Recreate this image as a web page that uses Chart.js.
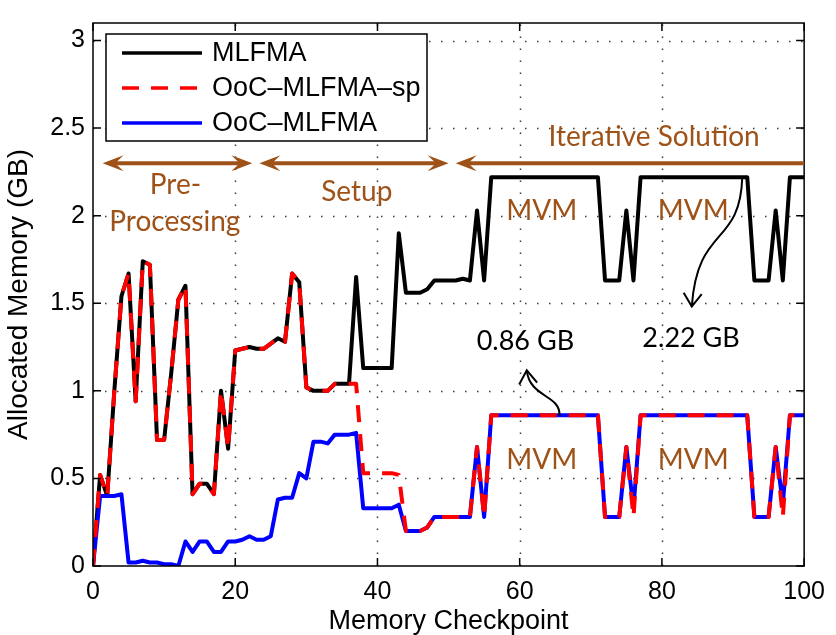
<!DOCTYPE html>
<html>
<head>
<meta charset="utf-8">
<title>Allocated memory per checkpoint</title>
<script src="https://cdn.jsdelivr.net/npm/chart.js@4.4.1/dist/chart.umd.min.js"></script>
<style>
  html, body { margin: 0; padding: 0; background: #fff; }
  canvas { display: block; }
</style>
</head>
<body>
<canvas id="memChart" width="836" height="635"></canvas>
<script>
// memory checkpoints 0..100
const checkpoints = Array.from({ length: 101 }, (_, i) => i);

const mlfma = [
  0.00, 0.52, 0.40, 1.00, 1.54, 1.67, 0.94, 1.74, 1.72, 0.72,
  0.72, 1.10, 1.52, 1.60, 0.41, 0.47, 0.47, 0.41, 1.00, 0.67,
  1.23, 1.24, 1.25, 1.24, 1.24, 1.27, 1.30, 1.28, 1.67, 1.62,
  1.02, 1.00, 1.00, 1.00, 1.04, 1.04, 1.04, 1.65, 1.13, 1.13,
  1.13, 1.13, 1.13, 1.90, 1.56, 1.56, 1.56, 1.58, 1.63, 1.63,
  1.63, 1.63, 1.64, 1.63, 2.03, 1.63, 2.22, 2.22, 2.22, 2.22,
  2.22, 2.22, 2.22, 2.22, 2.22, 2.22, 2.22, 2.22, 2.22, 2.22,
  2.22, 2.22, 1.63, 1.63, 1.63, 2.03, 1.63, 2.22, 2.22, 2.22,
  2.22, 2.22, 2.22, 2.22, 2.22, 2.22, 2.22, 2.22, 2.22, 2.22,
  2.22, 2.22, 2.22, 1.63, 1.63, 1.63, 2.03, 1.63, 2.22, 2.22,
  2.22
];

const oocSp = [
  0.00, 0.52, 0.40, 1.00, 1.54, 1.67, 0.94, 1.74, 1.72, 0.72,
  0.72, 1.10, 1.52, 1.60, 0.41, 0.47, 0.47, 0.41, 1.00, 0.67,
  1.23, 1.24, 1.25, 1.24, 1.24, 1.27, 1.30, 1.28, 1.67, 1.62,
  1.02, 1.00, 1.00, 1.00, 1.04, 1.04, 1.04, 1.04, 0.53, 0.53,
  0.53, 0.53, 0.53, 0.52, 0.20, 0.20, 0.20, 0.22, 0.28, 0.28,
  0.28, 0.28, 0.28, 0.28, 0.68, 0.28, 0.86, 0.86, 0.86, 0.86,
  0.86, 0.86, 0.86, 0.86, 0.86, 0.86, 0.86, 0.86, 0.86, 0.86,
  0.86, 0.86, 0.28, 0.28, 0.28, 0.68, 0.28, 0.86, 0.86, 0.86,
  0.86, 0.86, 0.86, 0.86, 0.86, 0.86, 0.86, 0.86, 0.86, 0.86,
  0.86, 0.86, 0.86, 0.28, 0.28, 0.28, 0.68, 0.28, 0.86, 0.86,
  0.86
];

const ooc = [
  0.00, 0.40, 0.40, 0.40, 0.41, 0.02, 0.02, 0.03, 0.02, 0.02,
  0.01, 0.01, 0.00, 0.14, 0.08, 0.14, 0.14, 0.08, 0.08, 0.14,
  0.14, 0.15, 0.17, 0.15, 0.15, 0.17, 0.38, 0.39, 0.39, 0.53,
  0.50, 0.71, 0.71, 0.70, 0.75, 0.75, 0.75, 0.76, 0.33, 0.33,
  0.33, 0.33, 0.33, 0.35, 0.20, 0.20, 0.20, 0.22, 0.28, 0.28,
  0.28, 0.28, 0.28, 0.28, 0.68, 0.28, 0.86, 0.86, 0.86, 0.86,
  0.86, 0.86, 0.86, 0.86, 0.86, 0.86, 0.86, 0.86, 0.86, 0.86,
  0.86, 0.86, 0.28, 0.28, 0.28, 0.68, 0.33, 0.86, 0.86, 0.86,
  0.86, 0.86, 0.86, 0.86, 0.86, 0.86, 0.86, 0.86, 0.86, 0.86,
  0.86, 0.86, 0.86, 0.28, 0.28, 0.28, 0.68, 0.35, 0.86, 0.86,
  0.86
];

const xTicks = [0, 20, 40, 60, 80, 100];
const yTicks = [0, 0.5, 1, 1.5, 2, 2.5, 3];

// phase labels and call-outs, placed in data units
const phases = [
  { from: 1.35, to: 22.4, y: 2.30, heads: 2 },
  { from: 23.4, to: 50.0, y: 2.30, heads: 2 },
  { from: 51.0, to: 100, y: 2.30, heads: 1 }
];
const notes = [
  { text: 'Pre-', x: 11.6, y: 2.125, color: 'brown' },
  { text: 'Processing', x: 11.5, y: 1.912, color: 'brown' },
  { text: 'Setup', x: 37.1, y: 2.086, color: 'brown' },
  { text: 'Iterative Solution', x: 78.9, y: 2.40, color: 'brown' },
  { text: 'MVM', x: 63.1, y: 1.973, color: 'brown' },
  { text: 'MVM', x: 84.4, y: 1.973, color: 'brown' },
  { text: 'MVM', x: 63.1, y: 0.555, color: 'brown' },
  { text: 'MVM', x: 84.4, y: 0.555, color: 'brown' },
  { text: '0.86 GB', x: 60.8, y: 1.231, color: 'black' },
  { text: '2.22 GB', x: 84.1, y: 1.251, color: 'black' }
];
const callouts = [
  // cubic curve: start, ctrl1, ctrl2, tip
  [[65.6, 0.86], [65.7, 0.98], [61.4, 0.96], [61.0, 1.117]],
  [[91.3, 2.22], [91.0, 1.82], [85.0, 1.95], [84.2, 1.481]]
];

const BROWN = '#9e5218';
const AXIS_FONT = '"Liberation Sans", Arial, Helvetica, sans-serif';
const NOTE_FONT = 'Lato, "Open Sans", sans-serif';

function phaseHead(ctx, tx, ty, dir) {
  const L = 21, W = 8;
  ctx.beginPath();
  ctx.moveTo(tx, ty);
  ctx.lineTo(tx - dir * L, ty - W);
  ctx.lineTo(tx - dir * L * 0.6, ty);
  ctx.lineTo(tx - dir * L, ty + W);
  ctx.closePath();
  ctx.fill();
}

const decorations = {
  id: 'decorations',
  beforeDatasetsDraw(chart) {
    const { ctx, chartArea: a, scales: { x, y } } = chart;
    ctx.save();
    ctx.strokeStyle = '#3a3a3a';
    ctx.lineWidth = 1.5;
    ctx.setLineDash([1.5, 10.5]);
    xTicks.slice(1, -1).forEach(v => {
      const px = Math.round(x.getPixelForValue(v)) + 0.5;
      ctx.beginPath(); ctx.moveTo(px, a.bottom); ctx.lineTo(px, a.top); ctx.stroke();
    });
    yTicks.slice(1).forEach(v => {
      const py = Math.round(y.getPixelForValue(v)) + 0.5;
      ctx.beginPath(); ctx.moveTo(a.left, py); ctx.lineTo(a.right, py); ctx.stroke();
    });
    ctx.restore();
  },
  afterDatasetsDraw(chart) {
    const { ctx, chartArea: a, scales: { x, y } } = chart;
    ctx.save();

    // axes box with inward ticks
    ctx.strokeStyle = '#000';
    ctx.lineWidth = 1.5;
    ctx.strokeRect(a.left, a.top, a.right - a.left, a.bottom - a.top);
    const tk = 8;
    ctx.beginPath();
    xTicks.forEach(v => {
      const px = x.getPixelForValue(v);
      ctx.moveTo(px, a.bottom); ctx.lineTo(px, a.bottom - tk);
      ctx.moveTo(px, a.top); ctx.lineTo(px, a.top + tk);
    });
    yTicks.forEach(v => {
      const py = y.getPixelForValue(v);
      ctx.moveTo(a.left, py); ctx.lineTo(a.left + tk, py);
      ctx.moveTo(a.right, py); ctx.lineTo(a.right - tk, py);
    });
    ctx.stroke();

    // phase arrows
    ctx.save();
    ctx.beginPath();
    ctx.rect(a.left, a.top, a.right - a.left, a.bottom - a.top);
    ctx.clip();
    ctx.strokeStyle = BROWN;
    ctx.fillStyle = BROWN;
    ctx.lineWidth = 4;
    phases.forEach(p => {
      const x0 = x.getPixelForValue(p.from);
      const x1 = x.getPixelForValue(p.to);
      const py = y.getPixelForValue(p.y);
      ctx.beginPath();
      ctx.moveTo(x0 + 12, py);
      ctx.lineTo(p.heads === 2 ? x1 - 12 : x1 + 4, py);
      ctx.stroke();
      phaseHead(ctx, x0, py, -1);
      if (p.heads === 2) phaseHead(ctx, x1, py, 1);
    });
    ctx.restore();

    // text notes
    ctx.textAlign = 'center';
    ctx.textBaseline = 'alphabetic';
    notes.forEach(n => {
      ctx.fillStyle = n.color === 'brown' ? BROWN : '#000';
      ctx.font = (n.color === 'brown' ? '28px ' : '27px ') + NOTE_FONT;
      ctx.fillText(n.text, x.getPixelForValue(n.x), y.getPixelForValue(n.y));
    });

    // curved call-out arrows
    ctx.strokeStyle = '#000';
    ctx.lineWidth = 2;
    callouts.forEach(c => {
      const p = c.map(([vx, vy]) => [x.getPixelForValue(vx), y.getPixelForValue(vy)]);
      ctx.beginPath();
      ctx.moveTo(p[0][0], p[0][1]);
      ctx.bezierCurveTo(p[1][0], p[1][1], p[2][0], p[2][1], p[3][0], p[3][1]);
      ctx.stroke();
      const ang = Math.atan2(p[3][1] - p[2][1], p[3][0] - p[2][0]);
      const L = 16, spread = 0.6;
      ctx.beginPath();
      ctx.moveTo(p[3][0] - L * Math.cos(ang - spread), p[3][1] - L * Math.sin(ang - spread));
      ctx.lineTo(p[3][0], p[3][1]);
      ctx.lineTo(p[3][0] - L * Math.cos(ang + spread), p[3][1] - L * Math.sin(ang + spread));
      ctx.stroke();
    });

    // legend box
    const lx = a.left + 13, ly = a.top + 11, lw = 321, lh = 107;
    ctx.fillStyle = '#fff';
    ctx.fillRect(lx, ly, lw, lh);
    ctx.strokeStyle = '#000';
    ctx.lineWidth = 1.5;
    ctx.strokeRect(lx, ly, lw, lh);
    ctx.font = '27px ' + AXIS_FONT;
    ctx.textAlign = 'left';
    ctx.textBaseline = 'middle';
    chart.data.datasets.forEach((ds, i) => {
      const ry = ly + 19 + i * 35;
      ctx.strokeStyle = ds.borderColor;
      ctx.lineWidth = 3.5;
      ctx.setLineDash(ds.borderDash || []);
      ctx.beginPath();
      ctx.moveTo(lx + 16, ry);
      ctx.lineTo(lx + 96, ry);
      ctx.stroke();
      ctx.setLineDash([]);
      ctx.fillStyle = '#000';
      ctx.fillText(ds.label, lx + 106, ry + 1);
    });

    ctx.restore();
  }
};

const toPoints = arr => arr.map((v, i) => ({ x: checkpoints[i], y: v }));

new Chart(document.getElementById('memChart'), {
  type: 'line',
  data: {
    datasets: [
      {
        label: 'MLFMA',
        data: toPoints(mlfma),
        borderColor: '#000000',
        borderWidth: 4,
        order: 2
      },
      {
        label: 'OoC–MLFMA–sp',
        data: toPoints(oocSp),
        borderColor: '#ff0000',
        borderWidth: 4,
        borderDash: [17, 12],
        order: 0
      },
      {
        label: 'OoC–MLFMA',
        data: toPoints(ooc),
        borderColor: '#0000ff',
        borderWidth: 4,
        order: 1
      }
    ]
  },
  options: {
    responsive: false,
    animation: false,
    devicePixelRatio: 1,
    parsing: false,
    elements: {
      point: { radius: 0 },
      line: { tension: 0, borderJoinStyle: 'round', borderCapStyle: 'butt' }
    },
    layout: { padding: { left: 0, top: 13, right: 24, bottom: 0 } },
    plugins: {
      legend: { display: false },
      tooltip: { enabled: false }
    },
    scales: {
      x: {
        type: 'linear',
        min: 0,
        max: 100,
        grid: { display: false, drawTicks: false },
        border: { display: false },
        afterBuildTicks: s => { s.ticks = xTicks.map(v => ({ value: v })); },
        afterFit: s => { s.height = 69; },
        ticks: {
          color: '#000',
          padding: 11,
          maxRotation: 0,
          callback: v => String(v),
          font: { family: AXIS_FONT, size: 25 }
        },
        title: {
          display: true,
          text: 'Memory Checkpoint',
          color: '#000',
          font: { family: AXIS_FONT, size: 27, lineHeight: 1 },
          padding: { top: 0, bottom: 0 }
        }
      },
      y: {
        type: 'linear',
        min: 0,
        max: 3.1,
        grid: { display: false, drawTicks: false },
        border: { display: false },
        afterBuildTicks: s => { s.ticks = yTicks.map(v => ({ value: v })); },
        afterFit: s => { s.width = 93; },
        ticks: {
          color: '#000',
          padding: 8,
          callback: v => String(v),
          font: { family: AXIS_FONT, size: 25 }
        },
        title: {
          display: true,
          text: 'Allocated Memory (GB)',
          color: '#000',
          font: { family: AXIS_FONT, size: 28, lineHeight: 1 },
          padding: { top: 5, bottom: 0 }
        }
      }
    }
  },
  plugins: [decorations]
});
</script>
</body>
</html>
